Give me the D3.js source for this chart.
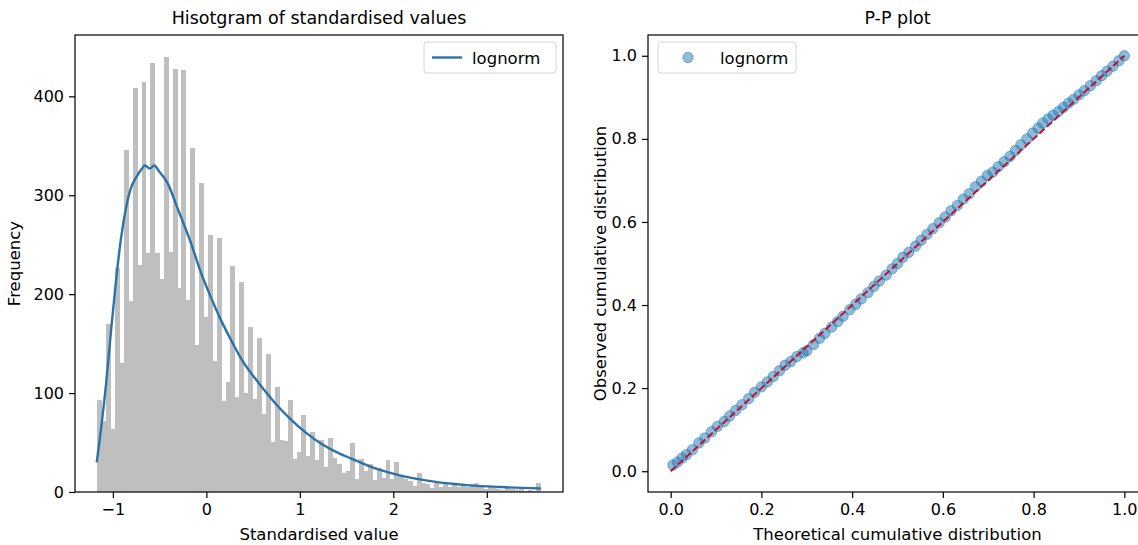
<!DOCTYPE html>
<html>
<head>
<meta charset="utf-8">
<script src="https://cdn.jsdelivr.net/npm/d3@7"></script>
<style>
  body { margin: 0; background: #fff; }
  svg { display: block; font-family: "DejaVu Sans", sans-serif; }
</style>
</head>
<body>
<div id="chart"></div>
<script>
// histogram counts (100 equal bins between binRange[0] and binRange[1])
const binRange = [-1.168, 3.578];
const counts = [
  93, 72, 170, 64, 226, 130, 346, 193, 408, 229,
  414, 242, 434, 242, 215, 440, 243, 428, 206, 427,
  194, 348, 149, 312, 177, 260, 132, 257, 92, 111,
  228, 96, 212, 100, 167, 94, 156, 79, 140, 51,
  106, 53, 52, 93, 33, 40, 78, 36, 61, 32,
  53, 25, 55, 34, 28, 19, 21, 50, 13, 33,
  21, 28, 12, 24, 14, 32, 13, 30, 17, 13,
  11, 6, 19, 9, 8, 4, 9, 5, 9, 5,
  8, 5, 7, 5, 8, 9, 5, 3, 5, 4,
  3, 2, 4, 3, 2, 3, 1, 2, 1, 9
];

// fitted lognorm curve
const curveX = [-1.173, -1.125, -1.072, -1.018, -0.965, -0.911, -0.858, -0.804, -0.751, -0.697,
  -0.655, -0.606, -0.558, -0.505, -0.419, -0.309, -0.166, -0.059, 0.048, 0.155,
  0.262, 0.383, 0.529, 0.636, 0.743, 0.886, 1.064, 1.242, 1.420, 1.545,
  1.720, 1.902, 2.080, 2.436, 2.789, 3.150, 3.578];
const curveY = [30, 65, 110, 165, 215, 258, 288, 308, 318, 326,
  330, 327, 330, 324, 313, 287, 252, 222, 197, 174,
  154, 133, 114, 101, 89, 75, 60, 48, 39, 34,
  27, 21, 16.5, 10.5, 7, 5, 3.5];

// P-P plot points
const ppTheoretical = [0.005, 0.015, 0.025, 0.035, 0.048, 0.062, 0.075, 0.090, 0.103, 0.118,
  0.130, 0.143, 0.157, 0.172, 0.185, 0.200, 0.213, 0.226, 0.240, 0.252,
  0.265, 0.278, 0.292, 0.300, 0.315, 0.328, 0.340, 0.355, 0.368, 0.380,
  0.395, 0.408, 0.420, 0.435, 0.448, 0.460, 0.475, 0.488, 0.500, 0.512,
  0.525, 0.540, 0.552, 0.565, 0.578, 0.592, 0.605, 0.618, 0.632, 0.645,
  0.658, 0.672, 0.685, 0.698, 0.710, 0.722, 0.735, 0.748, 0.760, 0.772,
  0.785, 0.798, 0.810, 0.820, 0.832, 0.843, 0.855, 0.866, 0.877, 0.888,
  0.900, 0.912, 0.925, 0.938, 0.950, 0.962, 0.975, 0.988, 1.000];
const ppObserved = [0.015, 0.022, 0.032, 0.040, 0.052, 0.068, 0.080, 0.095, 0.108, 0.120,
  0.133, 0.146, 0.160, 0.175, 0.190, 0.203, 0.215, 0.228, 0.242, 0.255,
  0.264, 0.276, 0.285, 0.290, 0.305, 0.320, 0.332, 0.347, 0.360, 0.373,
  0.389, 0.402, 0.415, 0.430, 0.445, 0.458, 0.472, 0.487, 0.500, 0.515,
  0.527, 0.542, 0.556, 0.570, 0.584, 0.598, 0.612, 0.627, 0.640, 0.655,
  0.668, 0.685, 0.698, 0.712, 0.720, 0.733, 0.745, 0.758, 0.772, 0.786,
  0.800, 0.814, 0.826, 0.838, 0.848, 0.857, 0.866, 0.876, 0.886, 0.895,
  0.906, 0.916, 0.928, 0.940, 0.952, 0.963, 0.975, 0.988, 1.000];
const refLine = [0, 1];

const histXTicks = [-1, 0, 1, 2, 3];
const histYTicks = [0, 100, 200, 300, 400];
const ppTicks = [0, 0.2, 0.4, 0.6, 0.8, 1.0];

const W = 1138, H = 545;
const svg = d3.select('#chart').append('svg').attr('width', W).attr('height', H);

const minus = s => s.replace('-', '\u2212');

function drawFrame(box, title, xlabel, ylabel, ylabelX) {
    svg.append('rect')
        .attr('x', box.left).attr('y', box.top)
        .attr('width', box.right - box.left).attr('height', box.bottom - box.top)
        .attr('fill', 'none').attr('stroke', '#000').attr('stroke-width', 1.2);
    svg.append('text')
        .attr('x', (box.left + box.right) / 2).attr('y', 24)
        .attr('text-anchor', 'middle').style('font-size', '17.5px').text(title);
    svg.append('text')
        .attr('x', (box.left + box.right) / 2).attr('y', 540)
        .attr('text-anchor', 'middle').style('font-size', '16.5px').text(xlabel);
    svg.append('text')
        .attr('transform', `translate(${ylabelX}, ${(box.top + box.bottom) / 2}) rotate(-90)`)
        .attr('text-anchor', 'middle').style('font-size', '16.5px').text(ylabel);
}

function drawAxes(box, x, y, xTicks, yTicks, fmtX, fmtY) {
    const xAxis = svg.append('g').attr('transform', `translate(0, ${box.bottom})`)
        .call(d3.axisBottom(x).tickValues(xTicks).tickSize(6).tickPadding(6).tickFormat(fmtX));
    const yAxis = svg.append('g').attr('transform', `translate(${box.left}, 0)`)
        .call(d3.axisLeft(y).tickValues(yTicks).tickSize(6).tickPadding(5).tickFormat(fmtY));
    [xAxis, yAxis].forEach(a => {
        a.select('.domain').remove();
        a.selectAll('line').attr('stroke', '#000').attr('stroke-width', 1.2);
        a.selectAll('text').attr('fill', '#000').style('font-size', '16px')
            .style('font-family', '"DejaVu Sans", sans-serif');
    });
}

// ---------- left: histogram ----------
const b1 = { left: 75, right: 563, top: 35, bottom: 492 };
const span = binRange[1] - binRange[0];
const x1 = d3.scaleLinear()
    .domain([binRange[0] - span * 0.05, binRange[1] + span * 0.05])
    .range([b1.left, b1.right]);
const y1 = d3.scaleLinear().domain([0, d3.max(counts) * 1.05]).range([b1.bottom, b1.top]);
const binW = span / counts.length;

svg.append('g').attr('shape-rendering', 'crispEdges').selectAll('rect')
    .data(counts)
    .join('rect')
    .attr('x', (d, i) => x1(binRange[0] + i * binW))
    .attr('width', (d, i) => x1(binRange[0] + (i + 1) * binW) - x1(binRange[0] + i * binW) + 0.5)
    .attr('y', d => y1(d))
    .attr('height', d => b1.bottom - y1(d))
    .attr('fill', '#bfbfbf');

const curve = d3.line()
    .x(d => x1(d[0]))
    .y(d => y1(d[1]))
    .curve(d3.curveMonotoneX);

svg.append('path')
    .datum(curveX.map((v, i) => [v, curveY[i]]))
    .attr('d', curve)
    .attr('fill', 'none')
    .attr('stroke', '#2c72a6')
    .attr('stroke-width', 2.4)
    .attr('stroke-linejoin', 'round');

drawFrame(b1, 'Hisotgram of standardised values', 'Standardised value', 'Frequency', 20);
drawAxes(b1, x1, y1, histXTicks, histYTicks, d => minus(d3.format('d')(d)), d3.format('d'));

// legend
const lg1 = svg.append('g').attr('transform', `translate(${b1.right - 139}, ${b1.top + 7})`);
lg1.append('rect').attr('width', 132).attr('height', 31).attr('rx', 3)
    .attr('fill', '#fff').attr('fill-opacity', 0.8).attr('stroke', '#d4d4d4');
lg1.append('line').attr('x1', 8).attr('x2', 38).attr('y1', 15.5).attr('y2', 15.5)
    .attr('stroke', '#2c72a6').attr('stroke-width', 2.4);
lg1.append('text').attr('x', 48).attr('y', 21.5).style('font-size', '16.5px').text('lognorm');

// ---------- right: P-P plot ----------
const b2 = { left: 648, right: 1147, top: 35, bottom: 492 };
const x2 = d3.scaleLinear().domain([-0.05, 1.05]).range([b2.left, b2.right]);
const y2 = d3.scaleLinear().domain([-0.05, 1.05]).range([b2.bottom, b2.top]);

svg.append('g').selectAll('circle')
    .data(ppTheoretical.map((v, i) => [v, ppObserved[i]]))
    .join('circle')
    .attr('cx', d => x2(d[0]))
    .attr('cy', d => y2(d[1]))
    .attr('r', 5.2)
    .attr('fill', '#1f77b4').attr('fill-opacity', 0.5)
    .attr('stroke', '#1f77b4').attr('stroke-opacity', 0.5).attr('stroke-width', 1);

svg.append('line')
    .attr('x1', x2(refLine[0])).attr('y1', y2(refLine[0]))
    .attr('x2', x2(refLine[1])).attr('y2', y2(refLine[1]))
    .attr('stroke', '#c8102e').attr('stroke-width', 2).attr('stroke-dasharray', '7,3');

drawFrame(b2, 'P-P plot', 'Theoretical cumulative distribution', 'Observed cumulative distribution', 606);
drawAxes(b2, x2, y2, ppTicks, ppTicks, d3.format('.1f'), d3.format('.1f'));

const lg2 = svg.append('g').attr('transform', `translate(${b2.left + 10}, ${b2.top + 7})`);
lg2.append('rect').attr('width', 138).attr('height', 31).attr('rx', 3)
    .attr('fill', '#fff').attr('fill-opacity', 0.8).attr('stroke', '#d4d4d4');
lg2.append('circle').attr('cx', 30).attr('cy', 15.5).attr('r', 5.2)
    .attr('fill', '#1f77b4').attr('fill-opacity', 0.5)
    .attr('stroke', '#1f77b4').attr('stroke-opacity', 0.5);
lg2.append('text').attr('x', 62).attr('y', 21.5).style('font-size', '16.5px').text('lognorm');
</script>
</body>
</html>
